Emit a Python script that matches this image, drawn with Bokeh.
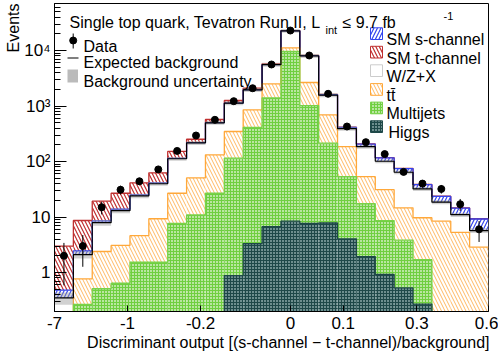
import numpy as np
from bokeh.plotting import figure
from bokeh.models import FixedTicker, Label, Range1d, Title
from bokeh.embed import file_html
from bokeh.resources import INLINE

# ---------------- data (events per bin, 23 bins) ----------------
higgs     = [0, 0, 0, 0, 0, 0, 0, 0, 0, 0.88, 3.3, 6.7, 8.4, 7.7, 7.8, 4.05, 1.94, 0.92, 0.53, 0.27, 0, 0, 0]
multijets = [0, 0.265, 0.51, 0.64, 1.53, 1.53, 7.7, 10.9, 26.8, 114, 407, 1399, 9582, 1012, 206, 49.5, 15.4, 7.7, 3.3, 1.43, 0, 0, 0]
ttbar     = [0, 0.5, 1.88, 2.43, 3.07, 7.77, 19.1, 39.7, 105, 232, 443, 1106, 1580, 1630, 480, 132, 36, 22.4, 10.8, 8.0, 8.4, 5.3, 2.86]
wzx       = [0.35, 1.33, 5.51, 9.93, 19.4, 30.4, 85.2, 166, 366, 776, 1097, 3038, 11430, 5350, 876, 204, 132, 70, 49.4, 22.3, 10.1, 5.7, 2.84]
schan     = [0.13, 0.35, 0.6, 0.8, 1.0, 1.4, 2, 2, 3, 5, 8, 15, 60, 60, 25, 20, 20, 15, 10.5, 6.3, 5.0, 3.5, 3.5]
tchan     = [2.5, 6.2, 10.8, 13, 16.3, 21.5, 38, 33, 70, 128, 142, 185, 240, 70, 16, 5, 2, 1, 0.5, 0.2, 0.2, 0.1, 0.1]
data      = [2, 3, 15, 31, 44, 72, 155, 294, 564, 1221, 2090, 5597, 22900, 8130, 1660, 427, 223, 136, 65, 40, 32, 17, 6]
bkg_rel_unc = [0.25, 0.15, 0.12, 0.10, 0.09, 0.08, 0.08, 0.08, 0.08, 0.08, 0.08, 0.08, 0.08, 0.08, 0.08, 0.08, 0.08, 0.08, 0.08, 0.08, 0.08, 0.09, 0.10]

x_tick_pos = [0, 3.87, 7.74, 12.5, 15.3, 19.2, 23]
x_tick_labels = ["-7", "-1", "-0.2", "0", "0.1", "0.3", "0.6"]
y_tick_vals = [1, 10, 100, 1000, 10000]
y_tick_labels = ["1", "10", "10\u00b2", "10\u00b3", "10\u2074"]

legend_left = ["Data", "Expected background", "Background uncertainty"]
legend_right = ["SM s-channel", "SM t-channel", "W/Z+X", "t\u0074\u0304", "Multijets", "Higgs"]

# ---------------- geometry helpers (page pixels -> data) ----------------
NB = len(data)
X0, XW = 54.0, 434.0 / NB       # frame left (page px), px per bin
Y1, DEC = 272.0, 55.5            # page y of value 1, px per decade
def dx(px):
    return (px - X0) / XW
def dy(py):
    return 10 ** ((Y1 - py) / DEC)

FONT = "Liberation Sans"
FLOOR = 1e-3

p = figure(width=498, height=358, y_axis_type="log",
           x_range=Range1d(0, NB), y_range=Range1d(dy(311), dy(3)),
           output_backend="svg", toolbar_location=None,
           min_border_left=54, min_border_right=10, min_border_top=3, min_border_bottom=47)
p.grid.visible = False
p.outline_line_color = "black"
p.outline_line_width = 1
p.background_fill_color = "white"

edges = np.arange(NB + 1, dtype=float)
left, right = edges[:-1], edges[1:]
centers = left + 0.5

def step_xy(vals):
    v = np.maximum(np.asarray(vals, float), FLOOR)
    xs = np.repeat(edges, 2)[1:-1]
    ys = np.repeat(v, 2)
    return xs, ys

# stack bottom -> top
comps = [
    ("higgs", higgs, dict(fill_color="#6d8e8e", hatch_pattern="+", hatch_color="#1e4848", hatch_scale=3, hatch_weight=1), "#1e4848"),
    ("mj", multijets, dict(fill_color="#b9e6a0", hatch_pattern="+", hatch_color="#6fcf40", hatch_scale=3, hatch_weight=1), "#79d24a"),
    ("tt", ttbar, dict(fill_color="white", hatch_pattern="\\", hatch_color="#ffb050", hatch_scale=7, hatch_weight=0.9), "#ffa83a"),
    ("wz", wzx, dict(fill_color="white"), None),
    ("s", schan, dict(fill_color="white", hatch_pattern="/", hatch_color="#3344ee", hatch_scale=7, hatch_weight=1.2), "#3344ee"),
    ("t", tchan, dict(fill_color="white", hatch_pattern="\\", hatch_color="#c03030", hatch_scale=7, hatch_weight=1.2), "#c03030"),
]
cum = np.zeros(NB)
levels = []
for name, vals, style, lc in comps:
    bot = cum.copy()
    cum = cum + np.asarray(vals, float)
    top = cum.copy()
    levels.append((name, bot, top, style, lc))
    p.quad(left=left, right=right, bottom=np.maximum(bot, FLOOR), top=np.maximum(top, FLOOR),
           line_color=None, **style)

# outlines, drawn from the top level down (ROOT THStack order)
for name, bot, top, style, lc in reversed(levels):
    if lc is None:
        continue
    xs, ys = step_xy(top)
    p.line(xs, ys, line_color=lc, line_width=1.3)

# background total, uncertainty band and line
bkg = np.asarray(higgs) + np.asarray(multijets) + np.asarray(ttbar) + np.asarray(wzx)
unc = np.asarray(bkg_rel_unc)
p.quad(left=left, right=right, bottom=bkg * (1 - unc), top=bkg * (1 + unc),
       fill_color="#999999", fill_alpha=0.45, line_color=None)
xs, ys = step_xy(bkg)
p.line(xs, ys, line_color="black", line_width=1.2)

# data
d = np.asarray(data, float)
err = np.sqrt(d)
p.segment(x0=centers, y0=np.maximum(d - err, FLOOR), x1=centers, y1=d + err, line_color="black", line_width=1)
p.scatter(centers, d, marker="circle", size=7, fill_color="black", line_color="black")

# axes
xa = p.xaxis[0]
xa.ticker = FixedTicker(ticks=x_tick_pos, minor_ticks=[])
xa.major_label_overrides = {t: l for t, l in zip(x_tick_pos, x_tick_labels)}
xa.major_tick_in = 6
xa.major_tick_out = 0
xa.minor_tick_in = 0
xa.minor_tick_out = 0
xa.major_label_standoff = 5
xa.major_label_text_font = FONT
xa.major_label_text_font_size = "17px"
xa.major_label_text_color = "black"
xa.axis_line_color = "black"

minor = []
for e in range(-1, 5):
    for m in range(2, 10):
        minor.append(m * 10.0 ** e)
ya = p.yaxis[0]
ya.ticker = FixedTicker(ticks=y_tick_vals, minor_ticks=minor)
ya.major_label_overrides = {t: l for t, l in zip(y_tick_vals, y_tick_labels)}
ya.major_tick_in = 12
ya.major_tick_out = 0
ya.minor_tick_in = 6
ya.minor_tick_out = 0
ya.major_label_standoff = 4
ya.major_label_text_font = FONT
ya.major_label_text_font_size = "17px"
ya.major_label_text_color = "black"
ya.axis_line_color = "black"

# axis titles as side titles (right/top aligned like ROOT)
p.add_layout(Title(text="Discriminant output [(s-channel \u2212 t-channel)/background]", align="right",
                   text_font=FONT, text_font_size="16px", text_font_style="normal",
                   text_color="black", offset=-1, standoff=0), "below")
p.add_layout(Title(text="Events", align="right", text_font=FONT, text_font_size="16px",
                   text_font_style="normal", text_color="black", standoff=0), "left")

def label(px, py, text, size="16px", **kw):
    p.add_layout(Label(x=dx(px), y=dy(py), text=text, text_font=FONT, text_font_size=size,
                       text_color="black", **kw))

# header
label(69, 22, "Single top quark, Tevatron Run II, L", text_baseline="alphabetic")
label(325, 29, "int", size="11px", text_baseline="alphabetic")
label(342, 22, "\u2264 9.7 fb", text_baseline="alphabetic")
label(443, 15, "-1", size="11px", text_baseline="alphabetic")

# left legend
baselines = [45.7, 62.3, 80.7]
p.segment(x0=[dx(72.7)], y0=[dy(33)], x1=[dx(72.7)], y1=[dy(48)], line_color="black", line_width=1)
p.scatter([dx(72.7)], [dy(40)], marker="circle", size=7, fill_color="black", line_color="black")
p.line([dx(67), dx(78)], [dy(57.5), dy(57.5)], line_color="black", line_width=1.2)
p.quad(left=[dx(67)], right=[dx(77.5)], bottom=[dy(82)], top=[dy(69)], fill_color="#bbbbbb", line_color=None)
for txt, b in zip(legend_left, baselines):
    label(83, b, txt, text_baseline="alphabetic")

# right legend
rbase = [39, 57.5, 76, 94.8, 113.3, 132]
box_styles = [comps[4][2], comps[5][2], dict(fill_color="white"), comps[2][2], comps[1][2], comps[0][2]]
box_lines = ["#3344ee", "#c03030", "#cccccc", "#ffa83a", "#79d24a", "#1e4848"]
for txt, b, st, lc in zip(legend_right, rbase, box_styles, box_lines):
    p.quad(left=[dx(370)], right=[dx(382)], bottom=[dy(b)], top=[dy(b - 11.7)], line_color=lc, line_width=1, **st)
    label(386 if txt != "Higgs" else 388, b, txt, text_baseline="alphabetic")

open("out.html", "w").write(file_html(p, INLINE))
